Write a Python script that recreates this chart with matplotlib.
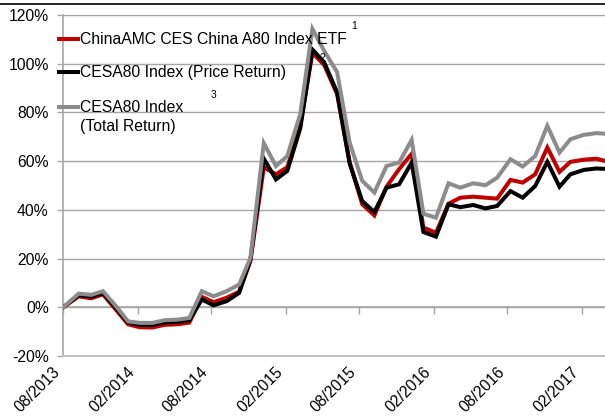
import matplotlib
matplotlib.use("Agg")
import matplotlib.pyplot as plt
import matplotlib.dates as mdates
from matplotlib.lines import Line2D
from matplotlib.ticker import FuncFormatter, MultipleLocator
import pandas as pd

plt.rcParams['font.family'] = ['Liberation Sans', 'DejaVu Sans']

dates = ["2013-08-23", "2013-09-30", "2013-10-31", "2013-11-29", "2013-12-31",
         "2014-01-30", "2014-02-28", "2014-03-31", "2014-04-30", "2014-05-30",
         "2014-06-30", "2014-07-31", "2014-08-29", "2014-09-30", "2014-10-31",
         "2014-11-28", "2014-12-31", "2015-01-30", "2015-02-27", "2015-03-31",
         "2015-04-30", "2015-05-29", "2015-06-30", "2015-07-31", "2015-08-31",
         "2015-09-30", "2015-10-30", "2015-11-30", "2015-12-31", "2016-01-29",
         "2016-02-29", "2016-03-31", "2016-04-29", "2016-05-31", "2016-06-30",
         "2016-07-29", "2016-08-31", "2016-09-30", "2016-10-31", "2016-11-30",
         "2016-12-30", "2017-01-26", "2017-02-28", "2017-03-31", "2017-04-28"]

etf = [0, 4.5, 3.7, 5.3, -1.0, -7.0, -8.2, -8.3, -7.2, -7.0,
       -6.3, 4.3, 2.1, 3.9, 6.4, 19.0, 57.5, 54.6, 57.5, 74.5,
       104.5, 99.5, 87.5, 59.5, 42.3, 37.7, 49.5, 56.7, 63.0, 32.7,
       30.6, 42.5, 45.0, 45.4, 45.0, 44.6, 52.3, 51.2, 54.6, 65.6,
       55.6, 59.7, 60.6, 61.0, 59.8]

price_ret = [0, 5.0, 4.4, 5.8, -0.3, -6.3, -7.2, -7.3, -6.2, -6.0,
             -5.3, 3.2, 0.8, 2.5, 5.9, 19.6, 61.0, 52.5, 56.0, 73.5,
             105.8, 100.6, 88.2, 59.0, 43.6, 39.1, 49.1, 50.5, 59.4, 30.9,
             29.0, 42.3, 41.1, 42.0, 40.6, 41.6, 47.7, 45.0, 49.8, 59.7,
             49.5, 54.6, 56.4, 57.0, 56.8]

total_ret = [0, 5.6, 5.1, 6.6, 0.5, -5.8, -6.4, -6.4, -5.3, -5.1,
             -4.4, 6.6, 4.5, 6.6, 9.3, 20.3, 67.4, 58.0, 62.1, 79.3,
             114.3, 105.3, 96.5, 67.6, 51.9, 47.1, 58.0, 59.4, 68.7, 38.4,
             36.8, 50.9, 49.1, 50.9, 50.1, 53.2, 60.8, 57.8, 62.1, 74.5,
             63.5, 69.0, 70.8, 71.5, 71.2]

series_labels = ["ChinaAMC CES China A80 Index ETF",
                 "CESA80 Index (Price Return)",
                 "CESA80 Index",
                 "(Total Return)"]
footnotes = ["1", "2", "3"]
x_tick_dates = ["2013-08-23", "2014-02-23", "2014-08-23", "2015-02-23",
                "2015-08-23", "2016-02-23", "2016-08-23", "2017-02-23"]

W, H = 605, 416
fig = plt.figure(figsize=(W / 100, H / 100), dpi=100)

def fx(x):
    return x / W

def fy(y):
    return 1 - y / H

left, right, top, bottom = 63.3, 605, 15, 356
ax = fig.add_axes([fx(left), fy(bottom), fx(right - left), fy(top) - fy(bottom)])

d = pd.to_datetime(dates)
RED, BLACK, GRAY = "#C00000", "#000000", "#8C8C8C"
lw = 2.9
ax.plot(d, etf, color=RED, lw=lw, solid_joinstyle='miter', zorder=3)
ax.plot(d, price_ret, color=BLACK, lw=lw, solid_joinstyle='miter', zorder=4)
ax.plot(d, total_ret, color=GRAY, lw=lw, solid_joinstyle='miter', zorder=5)

x0 = pd.Timestamp(dates[0])
span_days = (605 - 63.3) / 12.33 * 30.44
ax.set_xlim(x0, x0 + pd.Timedelta(days=span_days))
ax.set_ylim(-20, 120)

grid_c = "#A6A6A6"
ax.yaxis.set_major_locator(MultipleLocator(20))
ax.yaxis.set_major_formatter(FuncFormatter(lambda v, p: f"{int(round(v))}%"))
ax.grid(axis='y', color=grid_c, lw=1.0)
ax.set_axisbelow(True)

for s in ['top', 'right']:
    ax.spines[s].set_visible(False)
ax.spines['left'].set_color(grid_c)
ax.spines['left'].set_linewidth(1.2)
ax.spines['bottom'].set_color("#BFBFBF")
ax.spines['bottom'].set_linewidth(1.4)

ax.tick_params(axis='y', length=4, width=1, color=grid_c, pad=6.5,
               labelsize=11.3, labelcolor="#000000")
ticks = pd.to_datetime(x_tick_dates)
ax.set_xticks(ticks)
ax.set_xticklabels([t.strftime("%m/%Y") for t in ticks], rotation=45,
                   ha='right', fontsize=11.3)
ax.tick_params(axis='x', length=0, pad=6)

# horizontal axis line at 0% with tick marks
sec = ax.secondary_xaxis(20 / 140)
sec.set_xticks(ticks)
sec.set_xticklabels([])
sec.tick_params(axis='x', direction='out', length=5, width=1, color=grid_c)
sec.spines['bottom'].set_color(grid_c)
sec.spines['bottom'].set_linewidth(1.2)

# legend (manual, Excel-style)
fs = 11.3
hx0, hx1, tx = 59, 78, 80
for col, ytxt, lab in [(RED, 39, series_labels[0]),
                       (BLACK, 72, series_labels[1]),
                       (GRAY, 107, series_labels[2])]:
    fig.add_artist(Line2D([fx(hx0), fx(hx1)], [fy(ytxt), fy(ytxt)],
                          transform=fig.transFigure, color=col, lw=lw, zorder=6))
    fig.text(fx(tx), fy(ytxt), lab, fontsize=fs, va='center', ha='left', zorder=7)
fig.text(fx(tx), fy(127), series_labels[3], fontsize=fs, va='center', ha='left')

for (xp, yp), t in zip([(354, 26), (322, 58), (214, 95)], footnotes):
    fig.text(fx(xp), fy(yp), t, fontsize=7.5, va='center', ha='center')

# top frame line
fig.add_artist(Line2D([0, 1], [fy(4), fy(4)], transform=fig.transFigure,
                      color="#000000", lw=1.2))

fig.savefig("out.png", dpi=100)
